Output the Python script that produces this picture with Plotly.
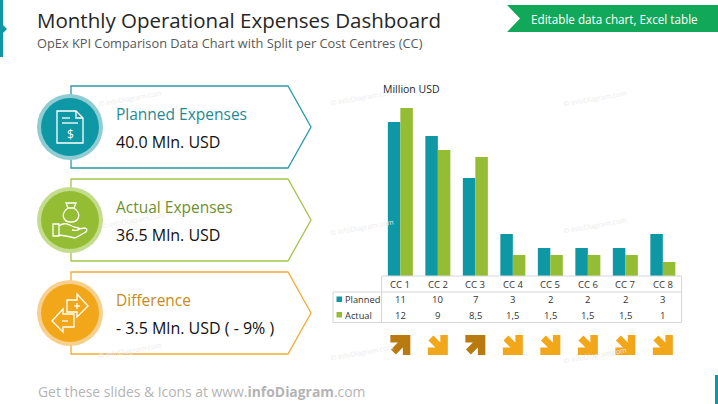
import plotly.graph_objects as go

W = 718
H = 404

categories = ["CC 1", "CC 2", "CC 3", "CC 4", "CC 5", "CC 6", "CC 7", "CC 8"]
planned = [11, 10, 7, 3, 2, 2, 2, 3]
actual = [12, 9, 8.5, 1.5, 1.5, 1.5, 1.5, 1]
planned_labels = ["11", "10", "7", "3", "2", "2", "2", "3"]
actual_labels = ["12", "9", "8,5", "1,5", "1,5", "1,5", "1,5", "1"]

kpi_titles = ["Planned Expenses", "Actual Expenses", "Difference"]
kpi_values = ["40.0 Mln. USD", "36.5 Mln. USD", "- 3.5 Mln. USD ( - 9% )"]

TEAL = "#0e98a6"
GREEN = "#94bd34"
ORANGE = "#f2a71b"
DARK_ORANGE = "#b97a10"
GRID = "#d4d6d8"
FONT = "Open Sans"


def fx(x):
    return x / W


def fy(y):
    return 1 - y / H


def path(d):
    # d is a list of (command, x, y, ...) in page pixels, turned into paper units
    out = []
    for seg in d:
        nums = seg[1:]
        pts = []
        for i in range(0, len(nums), 2):
            pts.append(f"{fx(nums[i]):.5f},{fy(nums[i + 1]):.5f}")
        out.append(seg[0] + " ".join(pts))
    return " ".join(out)


shapes = []
notes = []


def outline(d, color, fill=None, width=1.3, layer="above"):
    shapes.append(dict(type="path", xref="paper", yref="paper", path=path(d),
                       line=dict(color=color, width=width),
                       fillcolor=fill if fill else "rgba(0,0,0,0)", layer=layer))


def disc(cx, cy, r, color):
    shapes.append(dict(type="circle", xref="paper", yref="paper",
                       x0=fx(cx - r), x1=fx(cx + r), y0=fy(cy + r), y1=fy(cy - r),
                       fillcolor=color, line=dict(width=0), layer="above"))


def label(x, y, text, size, color, anchor="left", angle=0, font=FONT):
    # annotations sit about 2px right of their anchor
    if anchor == "left":
        x = x - 2
    notes.append(dict(xref="paper", yref="paper", x=fx(x), y=fy(y), text=text,
                      showarrow=False, xanchor=anchor, yanchor="middle", textangle=angle,
                      font=dict(size=size, color=color, family=font)))


# -------------------------
# Watermarks
# -------------------------

for wx, wy in [(130, 98), (133, 220), (130, 350), (362, 97), (595, 98),
               (362, 228), (595, 225), (362, 352), (595, 355)]:
    label(wx, wy, "© infoDiagram.com", 7, "#ececec", "center", -10)

# -------------------------
# Header and footer
# -------------------------

outline([("M", 0, 0), ("L", 3, 0), ("L", 3, 25), ("L", 7, 29), ("L", 3, 33), ("L", 3, 57), ("L", 0, 57), ("Z",)],
        TEAL, TEAL, 0)
outline([("M", 715, 375), ("L", 718, 375), ("L", 718, 404), ("L", 715, 404), ("Z",)], TEAL, TEAL, 0)
outline([("M", 507, 5), ("L", 718, 5), ("L", 718, 32), ("L", 507, 32), ("L", 520, 18.5), ("Z",)],
        "#12a85a", "#12a85a", 0)

label(37, 19.5, "Monthly Operational Expenses Dashboard", 20.5, "#262626")
label(37, 43, "OpEx KPI Comparison Data Chart with Split per Cost Centres (CC)", 12.8, "#595959")
label(531, 19, "Editable data chart, Excel table", 11.7, "#ffffff")
label(38, 391, "Get these slides &amp; Icons at www.<b>infoDiagram</b>.com", 13.9, "#b4b4b4")

# -------------------------
# KPI callouts
# -------------------------

box_colors = ["#2a9aa8", "#a3c44c", "#f0ac35"]
disc_colors = [TEAL, GREEN, ORANGE]
ring_colors = ["#8fcdd3", "#c4dc8e", "#f8d08d"]
title_colors = ["#1f8a96", "#6f9030", "#c98a22"]
centers = [127, 220, 313]

for i, cy in enumerate(centers):
    outline([("M", 71, cy - 41), ("L", 288, cy - 41), ("L", 311, cy), ("L", 288, cy + 41),
             ("L", 71, cy + 41), ("Z",)], box_colors[i])
    disc(70, cy, 33, ring_colors[i])
    disc(70, cy, 29, disc_colors[i])
    label(116, cy - 13, kpi_titles[i], 15.5, title_colors[i])
    label(116, cy + 15, kpi_values[i], 16, "#111111")

# document icon
outline([("M", 57, 111), ("L", 76, 111), ("L", 83, 118), ("L", 83, 143), ("L", 57, 143), ("Z",)], "#ffffff")
outline([("M", 76, 111), ("L", 76, 118), ("L", 83, 118)], "#ffffff")
outline([("M", 62, 118), ("L", 70, 118)], "#ffffff")
outline([("M", 62, 123), ("L", 78, 123)], "#ffffff")
label(70, 134, "$", 12, "#ffffff", "center")

# money bag and hand icon
outline([("M", 68, 208), ("C", 60, 214, 63, 222, 71, 222), ("C", 79, 222, 82, 214, 74, 208), ("Z",)], "#ffffff")
outline([("M", 68, 208), ("L", 66, 203), ("L", 76, 203), ("L", 74, 208)], "#ffffff")
outline([("M", 53, 224), ("L", 59, 224), ("L", 59, 236), ("L", 53, 236), ("Z",)], "#ffffff")
outline([("M", 59, 226), ("C", 64, 222, 68, 224, 74, 227), ("L", 79, 228), ("C", 80, 230, 76, 231, 72, 230)], "#ffffff")
outline([("M", 78, 229), ("L", 85, 228), ("C", 88, 229, 87, 232, 84, 233), ("L", 75, 238), ("L", 66, 236), ("L", 59, 235)], "#ffffff")

# difference arrows icon
outline([("M", 67, 300), ("L", 77, 300), ("L", 77, 294), ("L", 88, 306), ("L", 77, 317), ("L", 77, 312),
         ("L", 67, 312), ("Z",)], "#ffffff")
outline([("M", 52, 321), ("L", 63, 309), ("L", 63, 314), ("L", 74, 314), ("L", 74, 327), ("L", 63, 327),
         ("L", 63, 332), ("Z",)], "#ffffff", ORANGE)
outline([("M", 74, 306), ("L", 80, 306)], "#ffffff")
outline([("M", 77, 303), ("L", 77, 309)], "#ffffff")
outline([("M", 62, 321), ("L", 68, 321)], "#ffffff")

# -------------------------
# Data table under the bars
# -------------------------

table_lines = [
    [("M", 381.6, 276), ("L", 681.6, 276), ("L", 681.6, 322.5), ("L", 333, 322.5), ("L", 333, 292), ("L", 681.6, 292)],
    [("M", 381.6, 276), ("L", 381.6, 322.5)],
]
for d in table_lines:
    outline(d, GRID, None, 1)

outline([("M", 336.5, 296.5), ("L", 342, 296.5), ("L", 342, 302), ("L", 336.5, 302), ("Z",)], TEAL, TEAL, 0)
outline([("M", 336.5, 312), ("L", 342, 312), ("L", 342, 317.5), ("L", 336.5, 317.5), ("Z",)], GREEN, GREEN, 0)
label(345, 299.5, "Planned", 9.3, "#333333")
label(345, 315, "Actual", 9.3, "#333333")
label(383, 89, "Million USD", 10.5, "#262626")

for cat, p, a in zip(categories, planned_labels, actual_labels):
    for text, y in [(cat, 284), (p, 299.5), (a, 315)]:
        notes.append(dict(xref="x", yref="paper", x=cat, y=fy(y), text=text, showarrow=False,
                          xanchor="center", yanchor="middle",
                          font=dict(size=9.5, color="#333333", family=FONT)))

# -------------------------
# Trend arrows, direction comes from the data
# -------------------------

arrow_pts = [(3.5, 9), (9, 9), (9, -9), (-9, -9), (-9, -3.5), (0, -3.5), (-8, 4.5), (-4.5, 8), (3.5, 0)]

for cat, p, a in zip(categories, planned, actual):
    over = a > p
    flip = -1 if over else 1
    pts = [(x, y * flip) for x, y in arrow_pts]
    color = DARK_ORANGE if over else ORANGE
    shapes.append(dict(type="path", xref="x", yref="paper", xsizemode="pixel", ysizemode="pixel",
                       xanchor=cat, yanchor=fy(345),
                       path="M" + " L".join(f"{x},{y}" for x, y in pts) + " Z",
                       fillcolor=color, line=dict(color=color, width=2), layer="above"))

# -------------------------
# Bars
# -------------------------

fig = go.Figure()
fig.add_trace(go.Bar(x=categories, y=planned, name="Planned", marker=dict(color=TEAL, line=dict(width=0))))
fig.add_trace(go.Bar(x=categories, y=actual, name="Actual", marker=dict(color=GREEN, line=dict(width=0))))

fig.update_layout(
    width=W,
    height=H,
    margin=dict(l=0, r=0, t=0, b=0),
    paper_bgcolor="#ffffff",
    plot_bgcolor="rgba(0,0,0,0)",
    barmode="group",
    bargap=1 / 3,
    bargroupgap=0,
    showlegend=False,
    shapes=shapes,
    annotations=notes,
    xaxis=dict(visible=False, domain=[fx(381.6), fx(681.6)], type="category", categoryorder="array",
               categoryarray=categories),
    yaxis=dict(visible=False, domain=[fy(276), fy(100)], range=[0, 176 / 14]),
)

fig.write_html("out.html", config=dict(displayModeBar=False), post_script="document.body.style.margin='0';")
